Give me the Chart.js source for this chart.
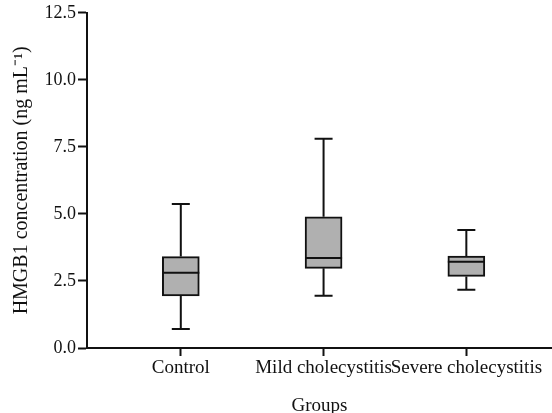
<!DOCTYPE html>
<html>
<head>
<meta charset="utf-8">
<script src="https://cdn.jsdelivr.net/npm/chart.js@4/dist/chart.umd.min.js"></script>
<style>
  html, body { margin: 0; padding: 0; background: #fff; }
  #wrap { width: 552px; height: 413px; }
</style>
</head>
<body>
<div id="wrap"><canvas id="box-chart"></canvas></div>
<script>
// Groups and box-plot statistics.
const groups = ["Control", "Mild cholecystitis", "Severe cholecystitis"];
const positions = [1, 2, 3];
const whiskerLow = [0.71, 1.95, 2.17];
const q1 = [1.94, 2.97, 2.67];
const medians = [2.81, 3.36, 3.22];
const q3 = [3.41, 4.89, 3.43];
const whiskerHigh = [5.37, 7.8, 4.40];
const yTicks = [0, 2.5, 5, 7.5, 10, 12.5];

const font = "'Liberation Serif', 'Times New Roman', serif";

// Draw median lines and whiskers on top of the floating bars.
const boxPlotLines = {
  id: "boxPlotLines",
  afterDatasetsDraw(chart) {
    const ctx = chart.ctx;
    const xs = chart.scales.x;
    const ys = chart.scales.y;
    const boxHalf = 18.5;
    const capHalf = 9;
    ctx.save();
    ctx.strokeStyle = "#111";
    ctx.lineWidth = 2;
    for (let i = 0; i < groups.length; i++) {
      const cx = xs.getPixelForValue(positions[i]);
      ctx.beginPath();
      // median
      ctx.moveTo(cx - boxHalf, ys.getPixelForValue(medians[i]));
      ctx.lineTo(cx + boxHalf, ys.getPixelForValue(medians[i]));
      // upper whisker
      ctx.moveTo(cx, ys.getPixelForValue(q3[i]));
      ctx.lineTo(cx, ys.getPixelForValue(whiskerHigh[i]));
      ctx.moveTo(cx - capHalf, ys.getPixelForValue(whiskerHigh[i]));
      ctx.lineTo(cx + capHalf, ys.getPixelForValue(whiskerHigh[i]));
      // lower whisker
      ctx.moveTo(cx, ys.getPixelForValue(q1[i]));
      ctx.lineTo(cx, ys.getPixelForValue(whiskerLow[i]));
      ctx.moveTo(cx - capHalf, ys.getPixelForValue(whiskerLow[i]));
      ctx.lineTo(cx + capHalf, ys.getPixelForValue(whiskerLow[i]));
      ctx.stroke();
    }
    ctx.restore();
  }
};

const boxData = positions.map(function (p, i) {
  return { x: p, y: [q1[i], q3[i]] };
});

const ctx = document.getElementById("box-chart").getContext("2d");
const chart = new Chart(ctx, {
  type: "bar",
  data: {
    datasets: [{
      data: boxData,
      backgroundColor: "#b0b0b0",
      borderColor: "#111",
      borderWidth: 2,
      borderSkipped: false,
      barThickness: 37
    }]
  },
  plugins: [boxPlotLines],
  options: {
    responsive: true,
    maintainAspectRatio: false,
    animation: false,
    layout: { padding: { top: 11, right: 0, left: 0, bottom: 0 } },
    plugins: {
      legend: { display: false },
      tooltip: { enabled: false }
    },
    scales: {
      x: {
        type: "linear",
        offset: false,
        min: 0.343,
        max: 3.6,
        afterBuildTicks: function (scale) {
          scale.ticks = positions.map(function (p) { return { value: p }; });
        },
        afterFit: function (scale) { scale.height = 65; },
        ticks: {
          color: "#111",
          font: { family: font, size: 19 },
          padding: 1,
          maxRotation: 0,
          autoSkip: false,
          callback: function (v) { return groups[v - 1]; }
        },
        grid: { offset: false, drawOnChartArea: false, tickLength: 8, tickColor: "#111", tickWidth: 2 },
        border: { color: "#111", width: 2 },
        title: {
          display: true,
          text: "Groups",
          color: "#111",
          font: { family: font, size: 19 },
          padding: { top: 0, bottom: -4 }
        }
      },
      y: {
        min: 0,
        max: 12.5,
        afterBuildTicks: function (scale) {
          scale.ticks = yTicks.map(function (v) { return { value: v }; });
        },
        afterFit: function (scale) { scale.width = 87; },
        ticks: {
          color: "#111",
          font: { family: font, size: 18 },
          padding: 2,
          callback: function (v) { return v.toFixed(1); }
        },
        grid: { drawOnChartArea: false, tickLength: 9, tickColor: "#111", tickWidth: 2 },
        border: { color: "#111", width: 2 },
        title: {
          display: true,
          text: "HMGB1 concentration (ng mL\u207B\u00B9)",
          color: "#111",
          font: { family: font, size: 20 },
          padding: { top: 10, bottom: 4 }
        }
      }
    }
  }
});
</script>
</body>
</html>
